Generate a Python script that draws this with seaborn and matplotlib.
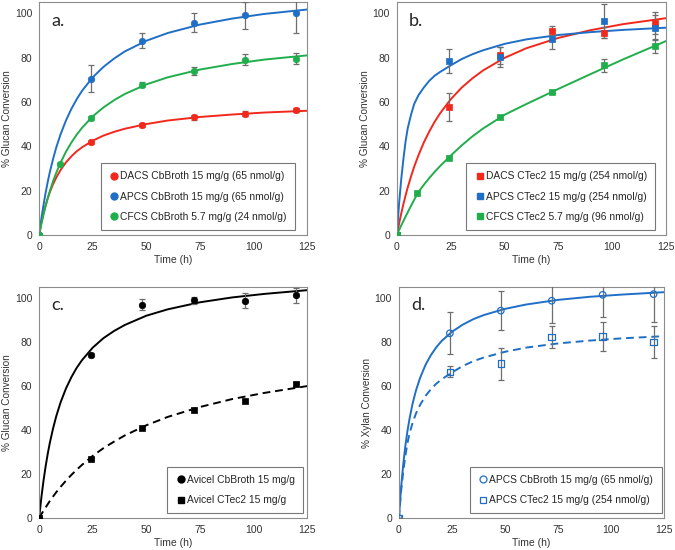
import matplotlib
matplotlib.use("Agg")
import matplotlib.pyplot as plt
import seaborn as sns
import pandas as pd
from matplotlib.lines import Line2D

sns.set_style("white")
plt.rcParams["font.family"] = ["Liberation Sans", "DejaVu Sans"]

# -----------------------------
# Data
# -----------------------------
t_pts = [0, 24, 48, 72, 96, 120]
t_pts_cf = [0, 9.5, 24, 48, 72, 96, 120]
t_fit = [0, 1, 2, 3, 4, 5, 6.5, 8, 10, 12.5, 15, 17.5, 20, 25, 30, 35, 40,
         50, 60, 75, 90, 105, 125]

# panel a
a_dacs = [0, 42, 49.5, 53, 54.7, 56.2]
a_dacs_err = [0, 0.8, 1.0, 1.2, 1.2, 0.9]
a_apcs = [0, 70.5, 87.7, 95.7, 99, 100]
a_apcs_err = [0, 6, 3.5, 4.3, 6, 8.8]
a_cfcs = [0, 32, 52.7, 67.8, 74, 79, 79.5]
a_cfcs_err = [0, 0.5, 0.8, 1.0, 1.7, 2.4, 2.4]
a_dacs_fit = [0, 5.2, 9.5, 13.3, 16.5, 19.3, 22.9, 25.9, 29.3, 32.7, 35.4, 37.7,
              39.5, 42.5, 44.8, 46.5, 47.9, 50.0, 51.6, 53.2, 54.3, 55.2, 56.0]
a_apcs_fit = [0, 7.1, 13.3, 18.9, 23.9, 28.4, 34.3, 39.5, 45.4, 51.6, 56.8, 61.2,
              65.0, 71.1, 75.8, 79.6, 82.8, 87.6, 91.1, 94.9, 97.6, 99.7, 101.7]
a_cfcs_fit = [0, 4.8, 9.1, 13.0, 16.5, 19.8, 24.2, 28.1, 32.6, 37.5, 41.6, 45.2,
              48.3, 53.5, 57.5, 60.8, 63.6, 67.9, 71.1, 74.6, 77.1, 79.1, 81.0]

# panel b
b_dacs = [0, 57.7, 81, 92.2, 91.3, 95.8]
b_dacs_err = [0, 6.5, 4.0, 2.0, 2.5, 5.0]
b_apcs = [0, 78.5, 80.3, 88.3, 96.5, 93.5]
b_apcs_err = [0, 5.5, 4.5, 4.3, 7.5, 5.5]
b_cfcs = [0, 18.7, 34.8, 53, 64.6, 76.5, 85.3]
b_cfcs_err = [0, 0.5, 0.7, 0.8, 0.8, 3.0, 3.3]
b_dacs_fit = [0, 5.0, 9.6, 13.8, 17.7, 21.3, 26.2, 30.7, 35.9, 41.7, 46.6, 51.0,
              54.8, 61.2, 66.4, 70.6, 74.2, 79.9, 84.2, 88.9, 92.4, 95.1, 97.8]
b_apcs_fit = [0, 14, 25, 34, 42, 48, 54, 59, 63, 66.5, 69.5, 71.8,
              73.5, 76.5, 79.3, 81.5, 83.3, 86.2, 88.2, 90.2, 91.5, 92.5, 93.5]
b_cfcs_fit = [0, 2.1, 4.2, 6.2, 8.2, 10.1, 13.0, 15.8, 19.3, 22.6, 25.6, 28.4,
              31.0, 35.8, 40.3, 44.4, 48.0, 54.2, 59.0, 65.9, 72.6, 79.2, 87.5]

# panel c
c_cb = [0, 74.2, 97, 99, 98.8, 101.3]
c_cb_err = [0, 0.8, 2.5, 1.5, 3.5, 3.5]
c_ct = [0, 27, 41, 49, 53.3, 61]
c_ct_err = [0, 0.5, 0.6, 0.7, 0.6, 0.8]
c_cb_fit = [0, 9.1, 16.8, 23.4, 29.2, 34.3, 40.8, 46.4, 52.6, 58.9, 64.0, 68.3,
            71.8, 77.5, 81.8, 85.1, 87.8, 92.0, 94.9, 98.1, 100.3, 101.9, 103.6]
c_ct_fit = [0, 1.7, 3.3, 4.8, 6.3, 7.8, 9.8, 11.8, 14.2, 17.0, 19.6, 22.0,
            24.2, 28.3, 31.8, 34.8, 37.6, 42.2, 46.0, 50.5, 54.1, 56.9, 60.0]

# panel d
d_cb = [0, 84, 94.3, 98.8, 101.5, 101.8]
d_cb_err = [0, 9.5, 9, 10, 10, 12.5]
d_ct = [0, 66.5, 70.2, 82.3, 82.5, 80]
d_ct_err = [0, 2.5, 7.2, 5, 6.5, 7.3]
d_cb_fit = [0, 13.6, 24.1, 32.6, 39.5, 45.2, 52.3, 57.9, 63.8, 69.6, 74.0, 77.5,
            80.4, 84.7, 87.9, 90.4, 92.3, 95.1, 97.1, 99.2, 100.6, 101.6, 102.7]
d_ct_fit = [0, 12, 21, 28, 34, 38.5, 43.5, 47.5, 51.5, 55.5, 58.5, 61,
            63, 66.2, 69.1, 71.3, 73.0, 75.6, 77.5, 79.4, 80.7, 81.7, 82.7]

RED = "#f2281c"
BLUE = "#1f6fc6"
GREEN = "#1fae4b"
BLACK = "#000000"
ERR = "#6e6e6e"

fig = plt.figure(figsize=(6.75, 5.5), dpi=100)
ax_a = fig.add_axes([0.058, 0.573, 0.397, 0.423])
ax_b = fig.add_axes([0.588, 0.573, 0.399, 0.423])
ax_c = fig.add_axes([0.058, 0.058, 0.397, 0.42])
ax_d = fig.add_axes([0.591, 0.058, 0.393, 0.42])


def draw_series(ax, x, y, err, fit, color, marker, label, ls="-", hollow=False):
    fit_df = pd.DataFrame({"t": t_fit, "y": fit})
    line = sns.lineplot(data=fit_df, x="t", y="y", ax=ax, color=color, lw=1.4,
                        zorder=2)
    if ls != "-":
        line.get_lines()[-1].set_dashes((4, 2.5))
    ax.errorbar(x, y, yerr=err, fmt="none", ecolor=ERR, elinewidth=0.9,
                capsize=2.0, capthick=0.9, zorder=3)
    pts = pd.DataFrame({"t": x, "y": y})
    if hollow:
        sns.scatterplot(data=pts, x="t", y="y", ax=ax, marker=marker, s=22,
                        facecolor="none", edgecolor=color, linewidth=0.9, zorder=4)
        return Line2D([], [], ls="none", marker=marker, ms=5, mfc="none",
                      mec=color, mew=0.9, label=label)
    sns.scatterplot(data=pts, x="t", y="y", ax=ax, marker=marker, s=22,
                    color=color, edgecolor=color, linewidth=0.5, zorder=4)
    return Line2D([], [], ls="none", marker=marker, ms=5, color=color, label=label)


def style_axes(ax, ylabel, tag):
    ax.set_xlim(0, 125)
    ax.set_ylim(0, 105)
    ax.set_xticks([0, 25, 50, 75, 100, 125])
    ax.set_yticks([0, 20, 40, 60, 80, 100])
    ax.set_xlabel("Time (h)", fontsize=7.5, color="#333333", labelpad=2)
    ax.set_ylabel(ylabel, fontsize=7.2, color="#333333")
    ax.yaxis.set_label_coords(-0.1, 0.5)
    ax.tick_params(axis="both", labelsize=7.5, labelcolor="#333333", length=3,
                   width=0.6, direction="out", pad=2, color="#999999")
    for s in ax.spines.values():
        s.set_color("#8c8c8c")
        s.set_linewidth(0.8)
    ax.text(0.045, 0.955, tag, transform=ax.transAxes, ha="left", va="top",
            fontsize=13, family=["Lato", "DejaVu Sans"])


def add_legend(ax, handles, bbox):
    leg = ax.legend(handles=handles, loc="lower right", bbox_to_anchor=bbox,
                    fontsize=7.4, frameon=True, fancybox=False, handletextpad=0.1,
                    handlelength=1.0, labelspacing=1.0, borderpad=0.8,
                    borderaxespad=0.0)
    leg.get_frame().set_edgecolor("#555555")
    leg.get_frame().set_linewidth(0.8)


# panel a
h1 = draw_series(ax_a, t_pts, a_dacs, a_dacs_err, a_dacs_fit, RED, "o",
                 "DACS CbBroth 15 mg/g (65 nmol/g)")
h2 = draw_series(ax_a, t_pts, a_apcs, a_apcs_err, a_apcs_fit, BLUE, "o",
                 "APCS CbBroth 15 mg/g (65 nmol/g)")
h3 = draw_series(ax_a, t_pts_cf, a_cfcs, a_cfcs_err, a_cfcs_fit, GREEN, "o",
                 "CFCS CbBroth 5.7 mg/g (24 nmol/g)")
style_axes(ax_a, "% Glucan Conversion", "a.")
add_legend(ax_a, [h1, h2, h3], (0.955, 0.02))

# panel b
h1 = draw_series(ax_b, t_pts, b_dacs, b_dacs_err, b_dacs_fit, RED, "s",
                 "DACS CTec2 15 mg/g (254 nmol/g)")
h2 = draw_series(ax_b, t_pts, b_apcs, b_apcs_err, b_apcs_fit, BLUE, "s",
                 "APCS CTec2 15 mg/g (254 nmol/g)")
h3 = draw_series(ax_b, t_pts_cf, b_cfcs, b_cfcs_err, b_cfcs_fit, GREEN, "s",
                 "CFCS CTec2 5.7 mg/g (96 nmol/g)")
style_axes(ax_b, "% Glucan Conversion", "b.")
add_legend(ax_b, [h1, h2, h3], (0.96, 0.02))

# panel c
h1 = draw_series(ax_c, t_pts, c_cb, c_cb_err, c_cb_fit, BLACK, "o",
                 "Avicel CbBroth 15 mg/g")
h2 = draw_series(ax_c, t_pts, c_ct, c_ct_err, c_ct_fit, BLACK, "s",
                 "Avicel CTec2 15 mg/g", ls="--")
style_axes(ax_c, "% Glucan Conversion", "c.")
add_legend(ax_c, [h1, h2], (0.985, 0.02))

# panel d
h1 = draw_series(ax_d, t_pts, d_cb, d_cb_err, d_cb_fit, BLUE, "o",
                 "APCS CbBroth 15 mg/g (65 nmol/g)", hollow=True)
h2 = draw_series(ax_d, t_pts, d_ct, d_ct_err, d_ct_fit, BLUE, "s",
                 "APCS CTec2 15 mg/g (254 nmol/g)", ls="--", hollow=True)
style_axes(ax_d, "% Xylan Conversion", "d.")
add_legend(ax_d, [h1, h2], (0.99, 0.02))

fig.savefig("out.png", dpi=100)
